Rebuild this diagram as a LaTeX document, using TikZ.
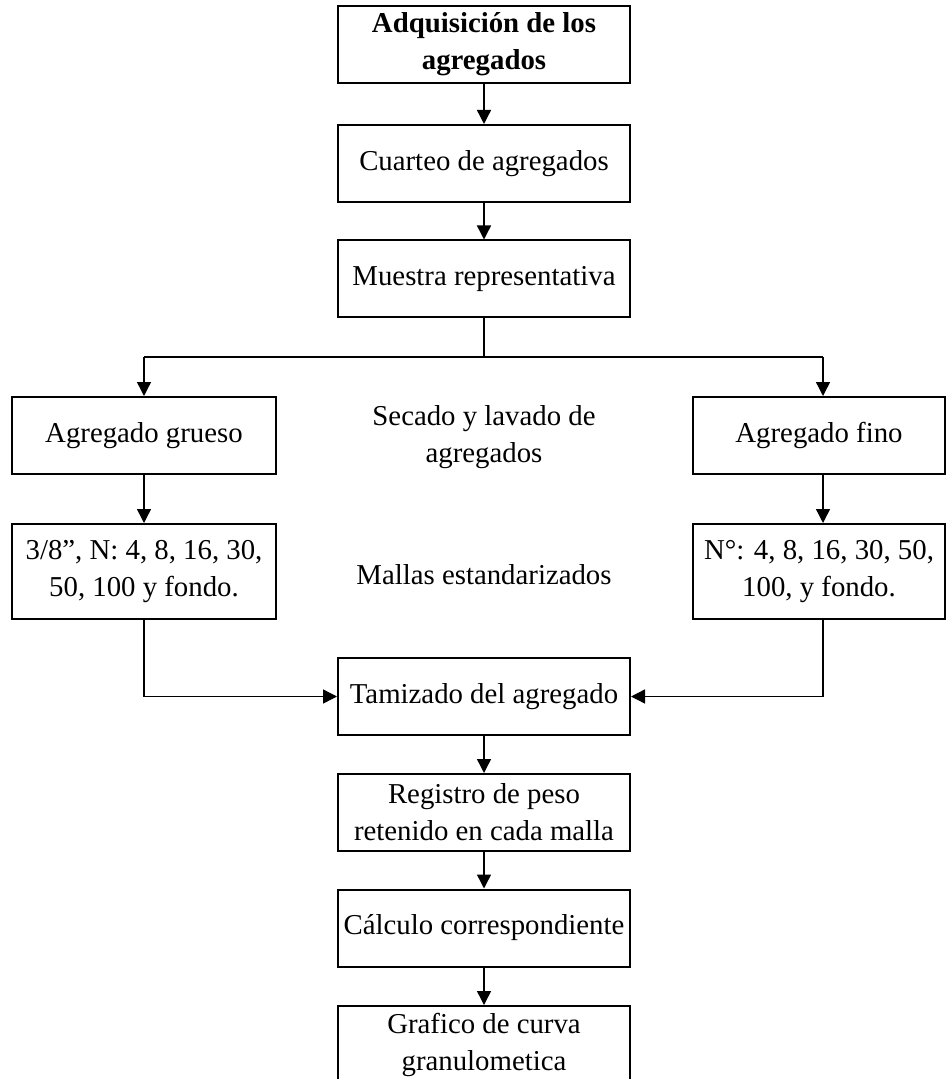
\documentclass[tikz,border=0pt]{standalone}
\usepackage{fontspec}
\setmainfont{Liberation Serif}
\usetikzlibrary{arrows.meta}
\tikzset{
	caja/.style={draw, line width=1pt, align=center, inner sep=0pt, minimum width=146pt, minimum height=38.5pt},
	flecha/.style={line width=0.7pt, -{Triangle[length=7pt,width=7pt]}},
	linea/.style={line width=0.7pt}
}
\begin{document}
\begin{tikzpicture}[x=0.5pt, y=-0.5pt, font=\fontsize{14.4}{18.5}\selectfont]
			%%%%% START %%%%%
			\useasboundingbox (0, 0) rectangle (946, 1079);
			
			\node[caja, font=\fontsize{14.4}{18.5}\selectfont\bfseries] (adq) at (484, 44.5) {Adquisición de los\\agregados};
			\node[caja] (cuarteo) at (484, 163.5) {Cuarteo de agregados};
			\node[caja] (muestra) at (484, 279) {Muestra representativa};
			
			\coordinate (rama) at (484, 357);
			\coordinate (ramaI) at (144, 357);
			\coordinate (ramaD) at (823, 357);
			
			\node[caja, minimum width=132pt] (grueso) at (144, 435.5) {Agregado grueso};
			\node[caja, minimum width=126pt] (fino) at (819, 435.5) {Agregado fino};
			\node[align=center] (secado) at (484, 437) {Secado y lavado de\\agregados};
			
			\node[caja, minimum width=132pt, minimum height=47.5pt] (mallasG) at (144, 571.5) {3/8”, N: 4, 8, 16, 30,\\50, 100 y fondo.};
			\node[caja, minimum width=126pt, minimum height=47.5pt] (mallasF) at (819, 571.5) {N°: 4, 8, 16, 30, 50,\\100, y fondo.};
			\node (mallas) at (484, 575) {Mallas estandarizados};
			
			\node[caja] (tamizado) at (484, 696.5) {Tamizado del agregado};
			\node[caja] (registro) at (484, 812.5) {Registro de peso\\retenido en cada malla};
			\node[caja] (calculo) at (484, 928) {Cálculo correspondiente};
			\node[caja] (grafico) at (484, 1044.5) {Grafico de curva\\granulometica};
			
			\draw[flecha] (adq) -- (cuarteo);
			\draw[flecha] (cuarteo) -- (muestra);
			\draw[linea] (muestra) -- (rama);
			\draw[linea] (ramaI) -- (ramaD);
			\draw[flecha] (ramaI) -- (ramaI |- grueso.north);
			\draw[flecha] (ramaD) -- (ramaD |- fino.north);
			
			\draw[flecha] (grueso) -- (mallasG);
			\draw[flecha] (ramaD |- fino.south) -- (ramaD |- mallasF.north);
			
			\draw[flecha] (mallasG.south -| ramaI) |- (tamizado.west);
			\draw[flecha] (mallasF.south -| ramaD) |- (tamizado.east);
			
			\draw[flecha] (tamizado) -- (registro);
			\draw[flecha] (registro) -- (calculo);
			\draw[flecha] (calculo) -- (grafico);
			
			%%%%% END %%%%%
\end{tikzpicture}
\end{document}
